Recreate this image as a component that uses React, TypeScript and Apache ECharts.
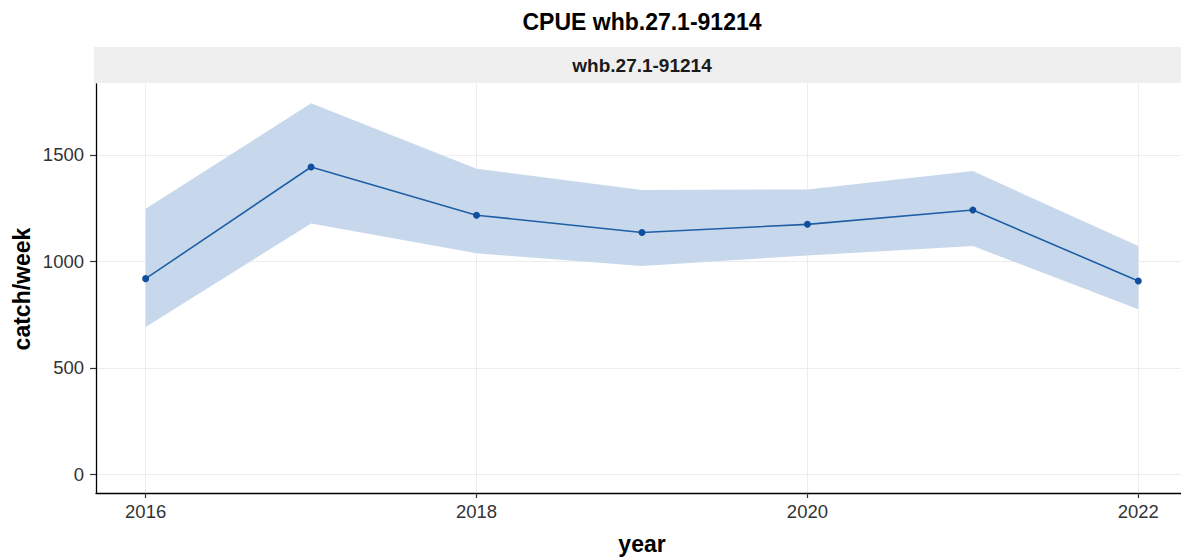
import React, { useEffect, useRef } from "react";
import * as echarts from "echarts";

const years = [2016, 2017, 2018, 2019, 2020, 2021, 2022];
const cpue = [919, 1443, 1217, 1136, 1174, 1241, 908];
const upper = [1247, 1742, 1435, 1335, 1338, 1424, 1072];
const lower = [692, 1178, 1038, 978, 1028, 1072, 775];
const yTicks = [0, 500, 1000, 1500];
const xTicks = [2016, 2018, 2020, 2022];
const titleText = "CPUE whb.27.1-91214";
const stripText = "whb.27.1-91214";
const xName = "year";
const yName = "catch/week";

const FONT = '"Liberation Sans", Arial, Helvetica, sans-serif';

export default function App() {
  const ref = useRef<HTMLDivElement>(null);
  useEffect(() => {
    if (!ref.current) return;
    const chart = echarts.init(ref.current, null, { renderer: "svg" });
    const gridLeft = 96;
    const gridTop = 84;
    const gridHeight = 409;
    // full (uncropped) panel would end at ~1188px; the picture is cropped at 1181
    const fullPanelRight = 1188;
    const panelCenter = (gridLeft + fullPanelRight) / 2;
    const bandData = years.map((y, i) => [y, lower[i], upper[i]]);
    chart.setOption({
      animation: false,
      backgroundColor: "#ffffff",
      grid: { left: gridLeft, top: gridTop, right: 0, height: gridHeight, containLabel: false },
      xAxis: {
        type: "value",
        min: 2015.7,
        max: 2022.258,
        axisLine: { show: true, onZero: false, lineStyle: { color: "#000", width: 1.3 } },
        axisTick: { show: true, length: 5, lineStyle: { color: "#333", width: 1.2 }, customValues: xTicks },
        axisLabel: {
          customValues: xTicks,
          color: "#333",
          fontSize: 18.5,
          fontFamily: FONT,
          margin: 9,
          formatter: (v: number) => String(v),
        },
        splitLine: { show: true, lineStyle: { color: "#ededed", width: 1 } },
      },
      yAxis: {
        type: "value",
        min: -87.3,
        max: 1832.8,
        axisLine: { show: true, onZero: false, lineStyle: { color: "#000", width: 1.3 } },
        axisTick: { show: true, length: 6, lineStyle: { color: "#333", width: 1.2 }, customValues: yTicks },
        axisLabel: {
          customValues: yTicks,
          color: "#333",
          fontSize: 18.5,
          fontFamily: FONT,
          margin: 12,
          formatter: (v: number) => String(v),
        },
        splitLine: { show: true, lineStyle: { color: "#ededed", width: 1 } },
      },
      graphic: [
        {
          type: "rect",
          z: -1,
          shape: { x: gridLeft - 2, y: 47, width: fullPanelRight - gridLeft + 2, height: 36 },
          style: { fill: "#efefef" },
        },
        {
          type: "text",
          x: panelCenter,
          y: 65,
          style: {
            text: stripText,
            fontSize: 19,
            fontWeight: "bold",
            fontFamily: FONT,
            fill: "#1a1a1a",
            align: "center",
            verticalAlign: "middle",
          },
        },
        {
          type: "text",
          x: panelCenter,
          y: 22,
          style: {
            text: titleText,
            fontSize: 23,
            fontWeight: "bold",
            fontFamily: FONT,
            fill: "#000",
            align: "center",
            verticalAlign: "middle",
          },
        },
        {
          type: "text",
          x: panelCenter,
          y: 544,
          style: {
            text: xName,
            fontSize: 23,
            fontWeight: "bold",
            fontFamily: FONT,
            fill: "#000",
            align: "center",
            verticalAlign: "middle",
          },
        },
        {
          type: "text",
          x: 22,
          y: 289,
          rotation: Math.PI / 2,
          style: {
            text: yName,
            fontSize: 23,
            fontWeight: "bold",
            fontFamily: FONT,
            fill: "#000",
            align: "center",
            verticalAlign: "middle",
          },
        },
      ],
      series: [
        {
          type: "custom",
          name: "band",
          data: bandData,
          silent: true,
          z: 1,
          renderItem: (params: any, api: any) => {
            if (params.dataIndex !== 0) return null;
            const top = bandData.map((d) => api.coord([d[0], d[2]]));
            const bottom = bandData
              .slice()
              .reverse()
              .map((d) => api.coord([d[0], d[1]]));
            return {
              type: "polygon",
              shape: { points: top.concat(bottom) },
              style: { fill: "#c8d8ec", stroke: "none" },
            };
          },
        },
        {
          type: "line",
          name: "cpue",
          data: years.map((y, i) => [y, cpue[i]]),
          symbol: "circle",
          symbolSize: 7,
          itemStyle: { color: "#0f4f9e" },
          lineStyle: { color: "#1f5fa6", width: 1.6 },
          z: 3,
        },
      ],
    });
    return () => chart.dispose();
  }, []);
  return (
    <div
      ref={ref}
      style={{ position: "fixed", left: 0, top: 0, width: 1181, height: 559, background: "#fff" }}
    />
  );
}
